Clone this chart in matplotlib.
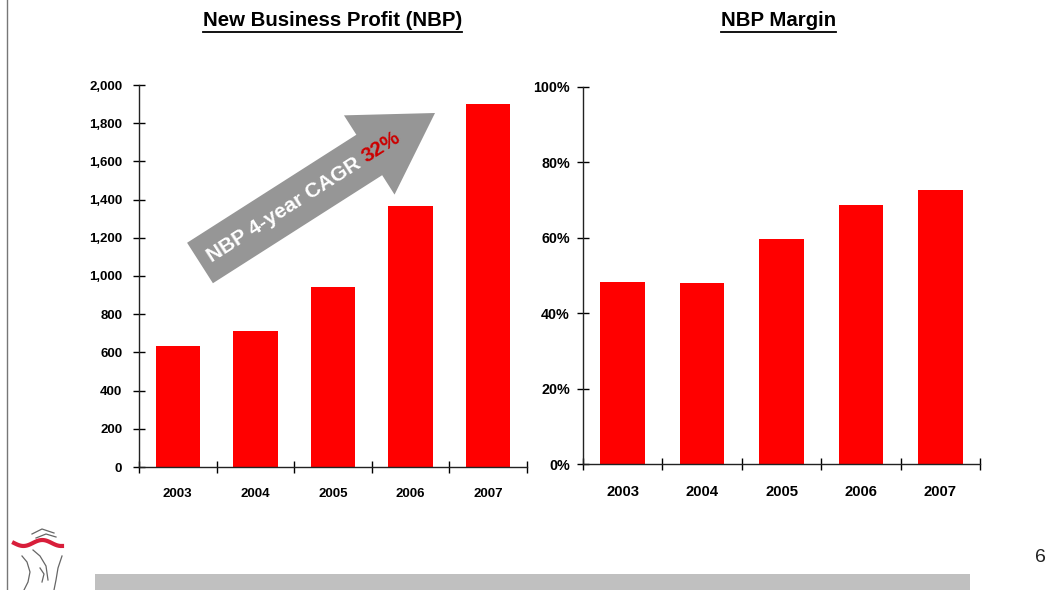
import numpy as np
import matplotlib.pyplot as plt
from matplotlib.patches import Polygon, Rectangle
from matplotlib.lines import Line2D

plt.rcParams['font.family'] = ['Liberation Sans', 'DejaVu Sans']

# ---- data ----
years = ['2003', '2004', '2005', '2006', '2007']
nbp = [633, 712, 942, 1366, 1900]
nbp_ticks = [0, 200, 400, 600, 800, 1000, 1200, 1400, 1600, 1800, 2000]
margin = [48.3, 48.0, 59.7, 68.7, 72.7]
margin_ticks = [0, 20, 40, 60, 80, 100]
cagr_label = 'NBP 4-year CAGR '
cagr_value = '32%'

RED = '#ff0000'
W, H = 1047, 590
fig = plt.figure(figsize=(W / 100, H / 100), dpi=100, facecolor='white')


def px(x, y):
    # pixel (from top-left) -> figure fraction
    return x / W, 1 - y / H


def style_axes(ax, ticks, fmt, tick_fs, xfs, ypad):
    x = np.arange(len(years))
    ax.set_xlim(-0.5, len(years) - 0.5)
    ax.set_ylim(ticks[0], ticks[-1])
    ax.set_yticks(ticks)
    ax.set_yticklabels([fmt(t) for t in ticks], fontsize=tick_fs, fontweight='bold')
    ax.set_xticks(x)
    ax.set_xticklabels(years, fontsize=xfs, fontweight='bold')
    ax.set_xticks(np.arange(len(years) + 1) - 0.5, minor=True)
    ax.tick_params(axis='x', which='major', length=0, pad=15)
    ax.tick_params(axis='x', which='minor', direction='inout', length=8, width=1)
    ax.tick_params(axis='y', direction='inout', length=8, width=1, pad=ypad)
    for s in ['top', 'right']:
        ax.spines[s].set_visible(False)
    for s in ['left', 'bottom']:
        ax.spines[s].set_linewidth(1)
        ax.spines[s].set_color('#222222')
    ax.patch.set_alpha(0)


# ---- left chart ----
l0, b0 = px(139, 467)
l1, t0 = px(527, 85)
ax1 = fig.add_axes([l0, b0, l1 - l0, t0 - b0])
ax1.bar(np.arange(len(years)), nbp, width=0.57, color=RED, zorder=2)
style_axes(ax1, nbp_ticks, lambda v: f'{v:,}', 9.5, 9.5, 8)

# ---- right chart ----
r0, b1 = px(583, 464)
r1, t1 = px(980, 87)
ax2 = fig.add_axes([r0, b1, r1 - r0, t1 - b1])
ax2.bar(np.arange(len(years)), margin, width=0.56, color=RED, zorder=2)
style_axes(ax2, margin_ticks, lambda v: f'{v}%', 10.3, 10.7, 5.5)

# ---- titles ----
fig.text(*px(332.5, 21), 'New Business Profit (NBP)', ha='center', va='center',
         fontsize=14.7, fontweight='bold')
fig.text(*px(778.5, 21), 'NBP Margin', ha='center', va='center',
         fontsize=14.7, fontweight='bold')
fig.add_artist(Line2D([203 / W, 462 / W], [1 - 31.5 / H] * 2, color='black', lw=1.3))
fig.add_artist(Line2D([721 / W, 836 / W], [1 - 31.5 / H] * 2, color='black', lw=1.3))

# ---- CAGR arrow (pixel geometry) ----
tail = np.array([200.0, 263.0])
tip = np.array([435.0, 113.0])
d = tip - tail
L = np.hypot(*d)
u = d / L
n = np.array([u[1], -u[0]])  # perpendicular (pixel coords, y down)
shaft_w, head_w, head_len = 48, 94, 78
base = tip - u * head_len
pts_px = [tail + n * shaft_w / 2, base + n * shaft_w / 2, base + n * head_w / 2, tip,
          base - n * head_w / 2, base - n * shaft_w / 2, tail - n * shaft_w / 2]
pts = [px(*p) for p in pts_px]
fig.add_artist(Polygon(pts, closed=True, transform=fig.transFigure,
                       facecolor='#969696', edgecolor='none'))
ang = np.degrees(np.arctan2(-d[1], d[0]))

# measure the two text pieces so they sit end to end along the arrow
rend = fig.canvas.get_renderer()
font = dict(fontsize=15, fontweight='bold')
w1 = fig.text(0, 0, cagr_label, **font).get_window_extent(rend).width
w2 = fig.text(0, 0, cagr_value, **font).get_window_extent(rend).width
for t in fig.texts[-2:]:
    t.remove()
s_c = 123.0
s1 = s_c - (w1 + w2) / 2 + w1 / 2
s2 = s_c - (w1 + w2) / 2 + w1 + w2 / 2
fig.text(*px(*(tail + u * s1)), cagr_label, rotation=ang, rotation_mode='anchor',
         ha='center', va='center', color='white', **font)
fig.text(*px(*(tail + u * s2)), cagr_value, rotation=ang, rotation_mode='anchor',
         ha='center', va='center', color='#cc0000', **font)

# ---- slide decorations ----
fig.add_artist(Line2D([6.5 / W] * 2, [0, 1], color='#777777', lw=1))
fig.add_artist(Rectangle(px(95, 590), (970 - 95) / W, 16 / H, transform=fig.transFigure,
                         facecolor='#c0c0c0', edgecolor='none'))
fig.text(*px(1035, 558), '6', ha='left', va='center', fontsize=14, color='#222222')

# small logo sketch
lx = np.linspace(14, 62, 30)
fig.add_artist(Line2D([px(x, 0)[0] for x in lx],
                      [px(0, 543 + 3 * np.sin((x - 14) / 6))[1] for x in lx],
                      color='#d81e3a', lw=3))
for xs, ys in [([22, 27, 30, 28, 24], [556, 562, 572, 582, 590]),
               ([33, 40, 46, 48], [550, 556, 566, 580]),
               ([40, 44, 42], [568, 574, 582]),
               ([62, 58, 56, 54], [556, 568, 580, 590]),
               ([32, 42, 54], [534, 529, 533]),
               ([36, 46, 56], [538, 534, 537])]:
    fig.add_artist(Line2D([px(x, 0)[0] for x in xs], [px(0, y)[1] for y in ys],
                          color='#666666', lw=0.9))

fig.savefig('out.png', dpi=100)
